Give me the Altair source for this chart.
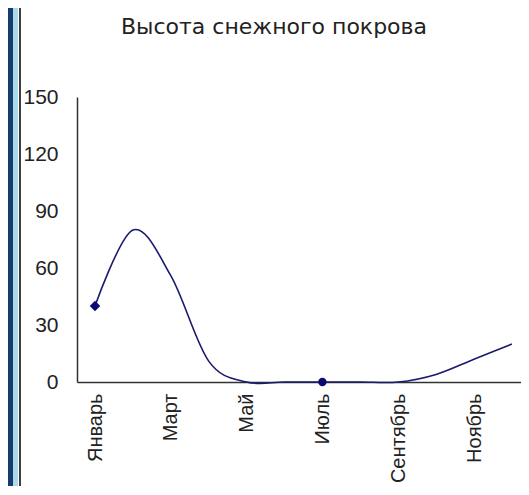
import altair as alt
import pandas as pd

months = ["Январь", "Февраль", "Март", "Апрель", "Май", "Июнь",
          "Июль", "Август", "Сентябрь", "Октябрь", "Ноябрь", "Декабрь"]
snow = [40, 80, 56, 11, 0, 0, 0, 0, 0, 4, 12, 20]
marker_months = ["Январь", "Июль"]
marker_shapes = ["diamond", "circle"]
y_ticks = [0, 30, 60, 90, 120, 150]
x_label_months = ["Январь", "Март", "Май", "Июль", "Сентябрь", "Ноябрь"]
title_text = ["Высота снежного покрова"]

df = pd.DataFrame({"idx": list(range(len(months))), "month": months, "snow": snow})
mk = df[df["month"].isin(marker_months)].copy()
mk["shape"] = [marker_shapes[marker_months.index(m)] for m in mk["month"]]
mk["size"] = [110 if s == "diamond" else 70 for s in mk["shape"]]

label_expr = "[" + ",".join(f"'{m}'" for m in months) + "][datum.value]"
x_vals = [months.index(m) for m in x_label_months]

font = "Liberation Sans"

x = alt.X("idx:Q", scale=alt.Scale(domain=[-0.475, 11.24], nice=False, zero=False),
          axis=alt.Axis(values=x_vals, labelExpr=label_expr, labelAngle=-90,
                        labelAlign="right", labelBaseline="middle", ticks=False,
                        grid=False, title=None, labelPadding=11, labelFontSize=20,
                        labelFont=font, labelColor="#222", domainColor="#333",
                        domainWidth=1.5, labelOverlap=False))
y = alt.Y("snow:Q", scale=alt.Scale(domain=[0, 150], nice=False),
          axis=alt.Axis(values=y_ticks, ticks=False, grid=False, title=None,
                        labelPadding=19, labelFontSize=21, labelFont=font,
                        labelColor="#222", domainColor="#333", domainWidth=1.5))

line = alt.Chart(df).mark_line(interpolate="cardinal", color="#1a1a6e",
                               strokeWidth=1.6).encode(x=x, y=y)
pts = alt.Chart(mk).mark_point(filled=True, color="#0a0a70", opacity=1).encode(
    x=x, y=y, shape=alt.Shape("shape:N", scale=None),
    size=alt.Size("size:Q", scale=None))

title = alt.Chart(pd.DataFrame({"t": title_text})).mark_text(
    font="DejaVu Sans", fontSize=22, color="#222", align="center", baseline="middle"
).encode(text="t:N", x=alt.value(197), y=alt.value(-70))

deco = pd.DataFrame({"a": [0]})
def strip(x0, x1, color):
    return alt.Chart(deco).mark_rect(color=color).encode(
        x=alt.value(x0), x2=alt.value(x1), y=alt.value(-89), y2=alt.value(400))

chart = alt.layer(
    strip(-70, -64, "#173c70"),
    strip(-64, -59, "#a9dbea"),
    strip(-58, -56, "#3a3f46"),
    title, line, pts,
).properties(
    width=444, height=285,
    padding={"left": 69, "top": 89, "right": 0, "bottom": 104},
    autosize=alt.AutoSizeParams(type="none"),
).configure_view(stroke=None)

chart.save("out.html", embed_options={"renderer": "svg", "actions": False})
